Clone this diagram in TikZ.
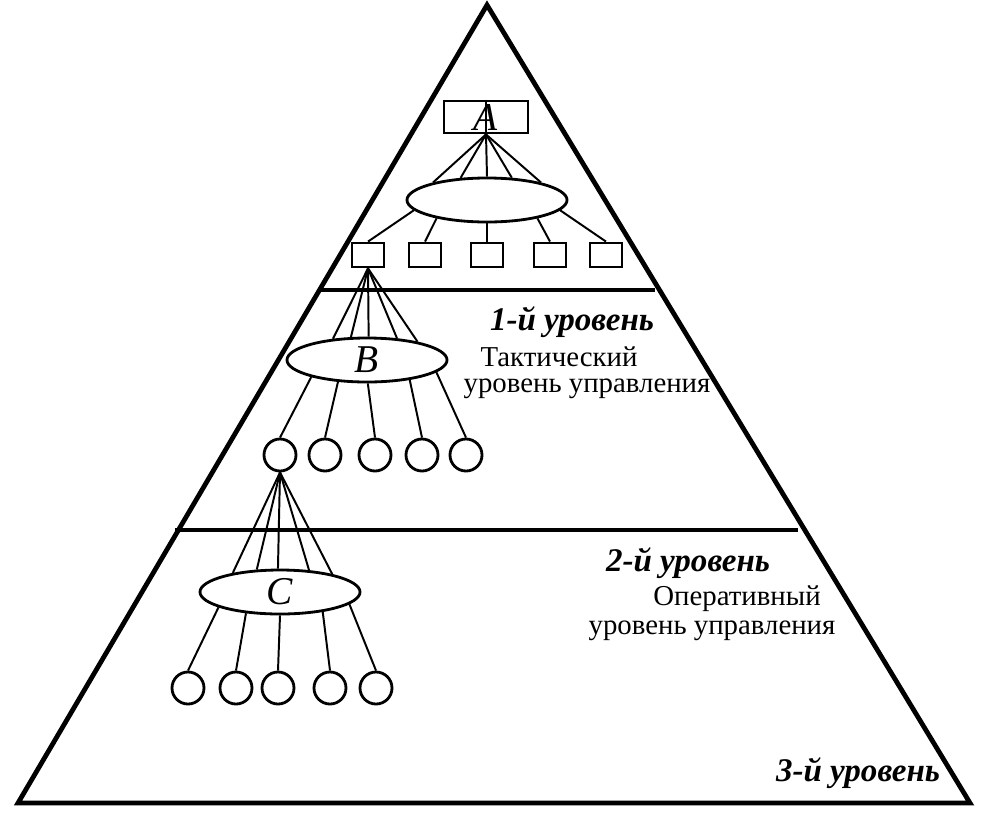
\documentclass[tikz,border=0pt]{standalone}
\usepackage{fontspec}
\setmainfont{Liberation Serif}
\usetikzlibrary{shapes.geometric}

\begin{document}
\begin{tikzpicture}[x=0.025cm,y=-0.025cm,line width=1.4pt,
  box/.style={draw,line width=2pt,minimum width=0.8cm,minimum height=0.6cm,inner sep=0pt},
  oval/.style={draw,line width=2pt,ellipse,minimum width=4cm,minimum height=1.1cm,inner sep=0pt,font=\fontsize{28}{28}\selectfont\itshape},
  ring/.style={draw,line width=2pt,circle,minimum size=0.8cm,inner sep=0pt},
  lvl/.style={font=\fontsize{23.5}{28}\selectfont\bfseries\itshape},
  txt/.style={font=\fontsize{20.5}{24}\selectfont}]
\useasboundingbox (0,0) rectangle (990,816);
% pyramid
\draw [line width=3.4pt] (487,5) -- (18,803) -- (970,803) -- cycle;
\draw [line width=3.4pt] (318,290) -- (655,290);
\draw [line width=3.4pt] (175,530) -- (798,530);

% top unit
\node [box,minimum width=2.1cm,minimum height=0.8cm] (A) at (486,117) {};
\draw (A.north) -- (A.south);
\node [font=\fontsize{28}{28}\selectfont\itshape] at (A) {A};
\node [oval] (E) at (487,200) {};
\foreach \a in {162,140,90,42,18} \draw (A.south) -- (E.\a);
\foreach \x [count=\i] in {368,425,487,550,606} \node [box] (a\i) at (\x,255) {};
\foreach \a [count=\i] in {188,200,270,340,352} \draw (E.\a) -- (a\i.north);

% tactical level
\node [oval] (B) at (367,360) {B};
\foreach \a in {148,125,86,36,20} \draw (a1.south) -- (B.\a);
\foreach \x [count=\i] in {280,325,375,422,466} \node [ring] (b\i) at (\x,455) {};
\foreach \a [count=\i] in {197,217,272,335,350} \draw (B.\a) -- (b\i.north);

% operative level
\node [oval] (C) at (280,592) {C};
\foreach \a in {158,136,95,37,19} \draw (b1.south) -- (C.\a);
\foreach \x [count=\i] in {188,236,278,330,376} \node [ring] (c\i) at (\x,688) {};
\foreach \a [count=\i] in {194,212,270,335,350} \draw (C.\a) -- (c\i.north);

% labels
\node [lvl] (l1) at (572,322) {1-й уровень};
\node [txt] (t1) at (559,357) {Тактический};
\node [txt] (u1) at (587,389) {уровень управления};
\node [lvl] (l2) at (688,563) {2-й уровень};
\node [txt] (t2) at (737,599) {Оперативный};
\node [txt] (u2) at (712,631) {уровень управления};
\node [lvl] (l3) at (858,773) {3-й уровень};
\end{tikzpicture}
\end{document}
